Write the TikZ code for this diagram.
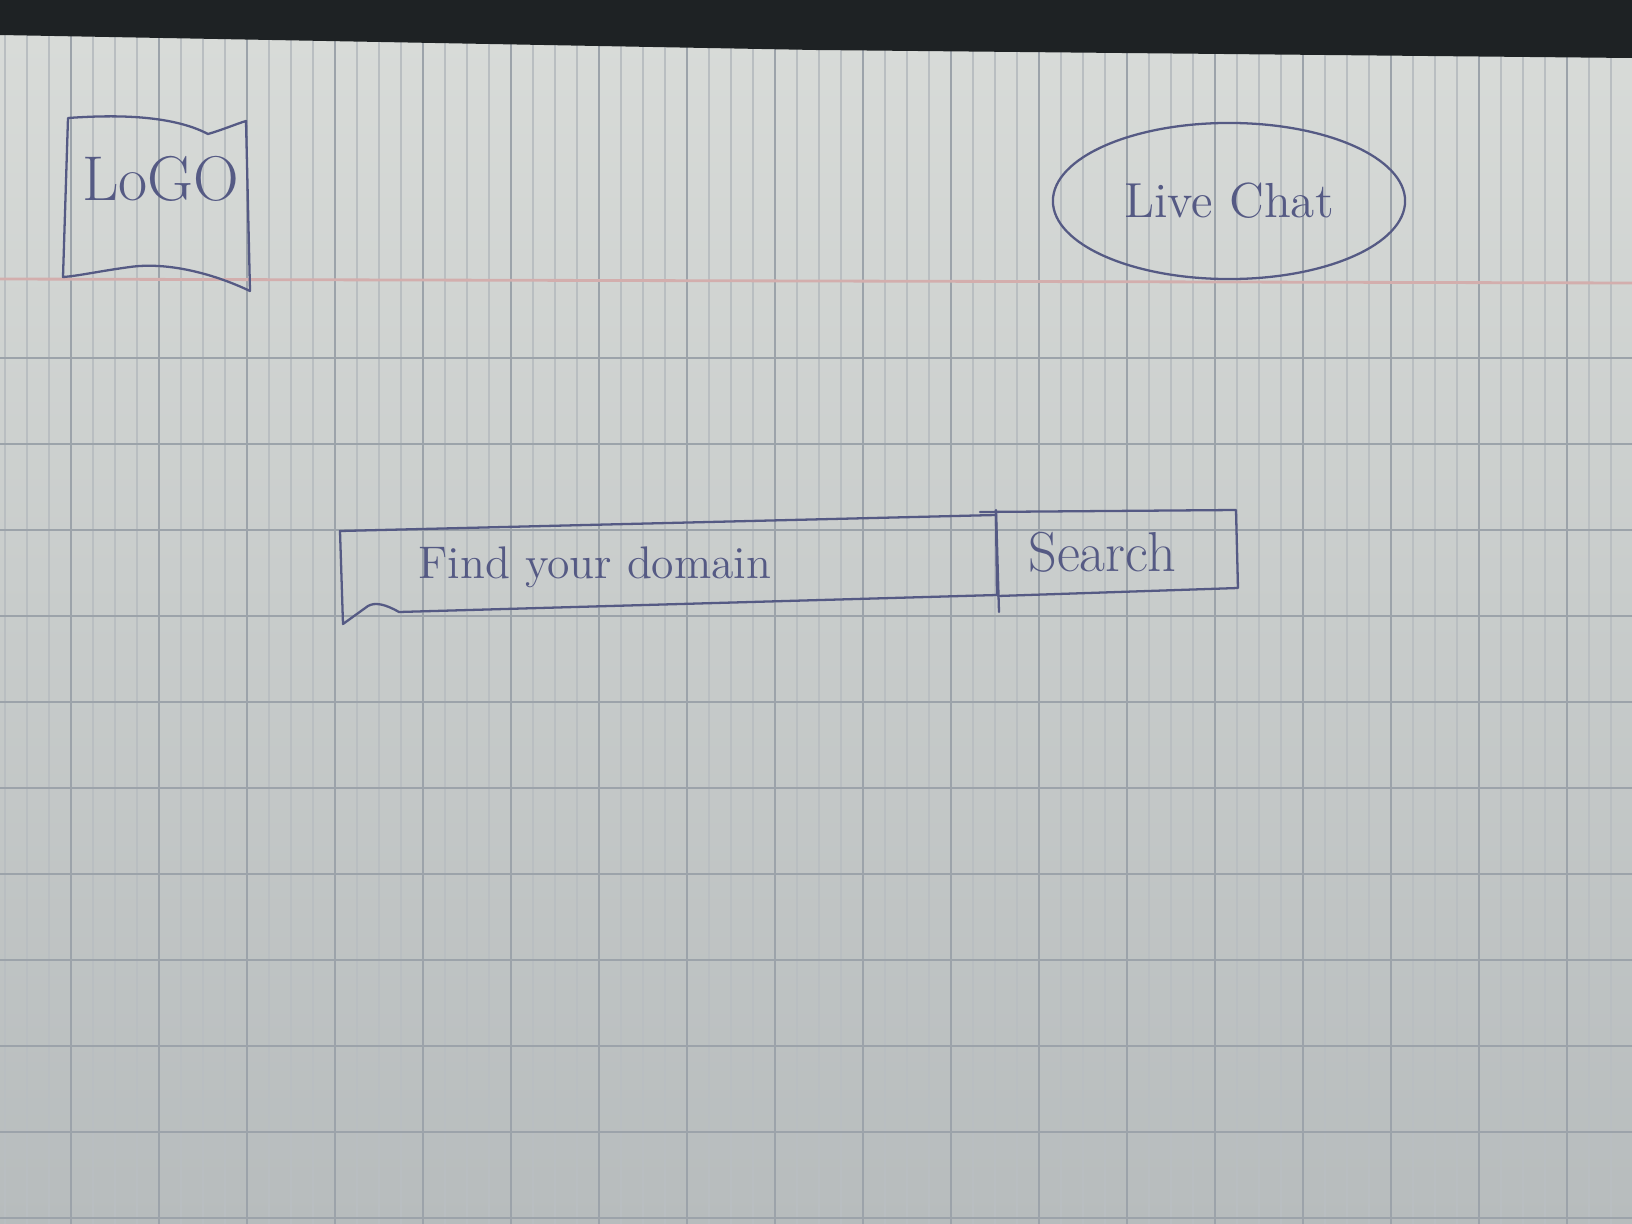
\documentclass[tikz,border=0pt]{standalone}
\usetikzlibrary{shapes.geometric}
\definecolor{PaperTop}{HTML}{D9DCD9}
\definecolor{PaperBottom}{HTML}{B7BCBD}
\definecolor{DeskDark}{HTML}{1E2224}
\definecolor{GridMinor}{HTML}{B9BEC1}
\definecolor{GridMajor}{HTML}{9CA3AA}
\definecolor{MarginRed}{HTML}{D3AEAD}
\definecolor{SketchInk}{HTML}{555A84}
\tikzset{
  sketch pen/.style={draw=SketchInk,line width=0.65pt,line join=round,line cap=round},
  sketch text/.style={text=SketchInk,inner sep=0pt},
  grid minor/.style={draw=GridMinor,line width=0.35pt},
  grid major/.style={draw=GridMajor,line width=0.55pt},
  margin line/.style={draw=MarginRed,line width=0.8pt}
}
\begin{document}
\begin{tikzpicture}[x=0.01cm,y=-0.01cm]
  \useasboundingbox (0,0) rectangle (1632,1224);
  % paper and grid
  \shade[top color=PaperTop,bottom color=PaperBottom] (0,0) rectangle (1632,1224);
  \foreach \gx in {5,27,...,1632} \draw[grid minor] (\gx,0) -- (\gx,1224);
  \foreach \gx in {71,159,...,1632} \draw[grid major] (\gx,0) -- (\gx,1224);
  \foreach \gy in {358,444,...,1224} \draw[grid major] (0,\gy) -- (1632,\gy);
  \draw[margin line] (0,279) -- (1632,283);
  \fill[DeskDark] (0,0) -- (1632,0) -- (1632,58) -- (816,50) -- (0,35) -- cycle;

  % logo
  \draw[sketch pen] (68,118) .. controls (110,115) and (170,114) .. (208,134)
    .. controls (222,130) and (236,124) .. (246,121) -- (250,291)
    .. controls (210,272) and (165,262) .. (130,267)
    .. controls (100,271) and (78,276) .. (63,277) -- cycle;
  \node[sketch text,font=\fontsize{18}{20}\selectfont] (logo) at (161,179) {LoGO};

  % live chat
  \node[sketch pen,sketch text,ellipse,minimum width=3.52cm,minimum height=1.56cm,
    font=\fontsize{14}{16}\selectfont] (chat) at (1229,201) {Live Chat};

  % search bar
  \draw[sketch pen] (340,531) -- (996,515) -- (997,595) -- (399,612)
    .. controls (385,604) and (375,602) .. (368,606) -- (343,624) -- cycle;
  \draw[sketch pen] (980,512) -- (1236,510) -- (1238,588) -- (998,596);
  \draw[sketch pen] (996,510) -- (999,612);
  \node[sketch text,font=\fontsize{13}{15}\selectfont] (domain) at (595,567) {Find your domain};
  \node[sketch text,font=\fontsize{16}{18}\selectfont] (search) at (1102,552) {Search};
\end{tikzpicture}
\end{document}
